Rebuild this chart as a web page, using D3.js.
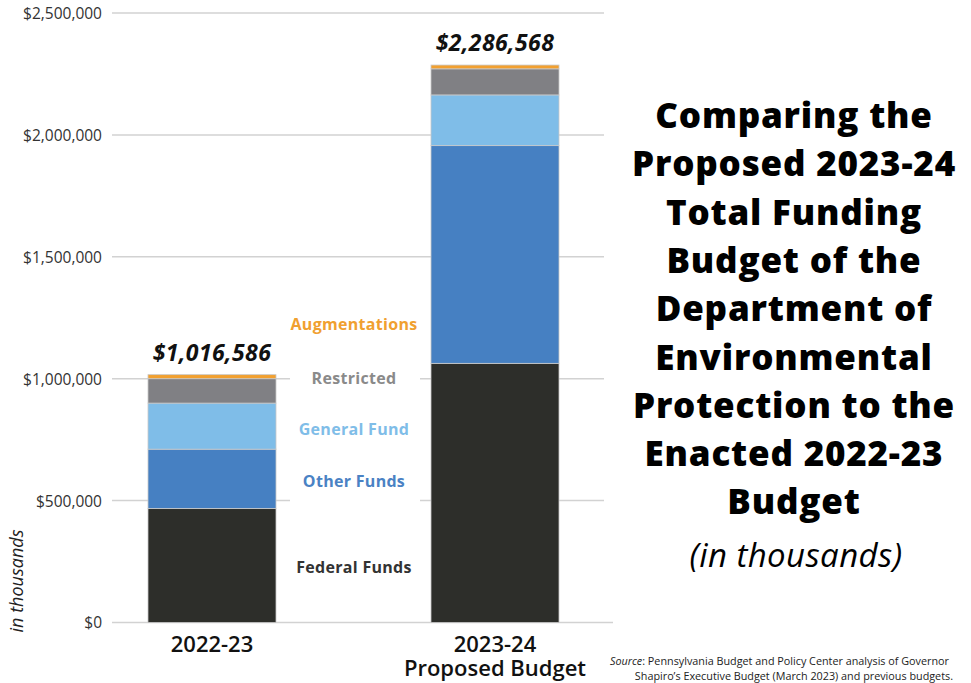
<!DOCTYPE html>
<html>
<head>
<meta charset="utf-8">
<script src="https://cdn.jsdelivr.net/npm/d3@7"></script>
<style>
  html, body { margin: 0; padding: 0; background: #fff; }
  svg { display: block; }
  text { font-family: "Open Sans", Lato, sans-serif; }
</style>
</head>
<body>
<svg id="chart" width="971" height="683"></svg>
<script>
// Budget years and funding sources (values in thousands of dollars)
const years = ["2022-23", "2023-24"];
const yearLabels = [["2022-23"], ["2023-24", "Proposed Budget"]];
const sources = ["Federal Funds", "Other Funds", "General Fund", "Restricted", "Augmentations"];
const federalFunds  = [468000, 1063000];
const otherFunds    = [243000, 893000];
const generalFund   = [189000, 208000];
const restricted    = [100000, 107000];
const augmentations = [16586, 15568];
const totals = [1016586, 2286568];
const yTicks = [0, 500000, 1000000, 1500000, 2000000, 2500000];

const colors = {
  "Federal Funds": "#2d2e2a",
  "Other Funds": "#4680c2",
  "General Fund": "#7fbde8",
  "Restricted": "#808084",
  "Augmentations": "#f2a02f"
};
const labelColors = {
  "Federal Funds": "#333333",
  "Other Funds": "#4a82c4",
  "General Fund": "#7fbde8",
  "Restricted": "#8a8a8a",
  "Augmentations": "#f0a030"
};

const rows = years.map((yr, i) => ({
  year: yr,
  "Federal Funds": federalFunds[i],
  "Other Funds": otherFunds[i],
  "General Fund": generalFund[i],
  "Restricted": restricted[i],
  "Augmentations": augmentations[i]
}));

const svg = d3.select("#chart");

const y = d3.scaleLinear().domain([0, 2500000]).range([622.5, 13]);
const x = d3.scaleBand().domain(years).range([148, 559]).paddingInner(0.5477).paddingOuter(0);

// Gridlines
const grid = svg.append("g");
grid.selectAll("line").data(yTicks).join("line")
  .attr("x1", 112)
  .attr("x2", d => d === 0 ? 613 : 604)
  .attr("y1", d => y(d)).attr("y2", d => y(d))
  .attr("stroke", "#d2d2d2").attr("stroke-width", 1.5);

// Clear the label column where the series names sit
svg.append("rect")
  .attr("x", 290).attr("y", y(1150000))
  .attr("width", 130).attr("height", y(420000) - y(1150000))
  .attr("fill", "#fff");

// Y axis labels
const yAxis = d3.axisLeft(y).tickValues(yTicks)
  .tickFormat(d => "$" + d3.format(",")(d)).tickSize(0).tickPadding(0);
const ya = svg.append("g").attr("transform", "translate(102,0)").call(yAxis);
ya.select(".domain").remove();
ya.selectAll("text")
  .attr("font-family", "'Open Sans', Lato, sans-serif")
  .attr("font-size", 15.5).attr("fill", "#333").attr("dy", "0.35em");

// Stacked bars
const stack = d3.stack().keys(sources)(rows);
svg.append("g").selectAll("g").data(stack).join("g")
  .attr("fill", d => colors[d.key])
  .selectAll("rect").data(d => d).join("rect")
  .attr("x", d => x(d.data.year))
  .attr("width", x.bandwidth())
  .attr("y", d => y(d[1]))
  .attr("height", d => y(d[0]) - y(d[1]))
  .attr("stroke", "#c9c9c9").attr("stroke-width", 0.8);

// Totals above the bars
svg.append("g").selectAll("text").data(years).join("text")
  .attr("x", (d) => x(d) + x.bandwidth() / 2)
  .attr("y", (d, i) => y(totals[i]) - 14)
  .attr("text-anchor", "middle")
  .attr("font-size", 23).attr("font-weight", 700).attr("font-style", "italic")
  .attr("letter-spacing", 0.4)
  .attr("fill", "#111")
  .text((d, i) => "$" + d3.format(",")(totals[i]));

// Series names between the bars
const labelY = {
  "Augmentations": 330,
  "Restricted": 384,
  "General Fund": 435,
  "Other Funds": 487,
  "Federal Funds": 573
};
svg.append("g").selectAll("text").data(sources).join("text")
  .attr("x", 354)
  .attr("y", d => labelY[d])
  .attr("text-anchor", "middle")
  .attr("font-size", 16).attr("font-weight", 700).attr("letter-spacing", 0.3)
  .attr("fill", d => labelColors[d])
  .text(d => d);

// Category labels
const xl = svg.append("g").selectAll("text").data(years).join("text")
  .attr("x", d => x(d) + x.bandwidth() / 2)
  .attr("y", 652)
  .attr("text-anchor", "middle")
  .attr("font-size", 22).attr("font-weight", 600).attr("fill", "#111");
xl.selectAll("tspan").data((d, i) => yearLabels[i]).join("tspan")
  .attr("x", function() { return d3.select(this.parentNode).attr("x"); })
  .attr("dy", (d, j) => j === 0 ? 0 : 24)
  .text(d => d);

// Axis title
svg.append("text")
  .attr("transform", "translate(23,581) rotate(-90)")
  .attr("text-anchor", "middle")
  .attr("font-size", 18).attr("font-style", "italic").attr("fill", "#222")
  .text("in thousands");

// Chart title
const titleLines = [
  "Comparing the", "Proposed 2023-24", "Total Funding", "Budget of the",
  "Department of", "Environmental", "Protection to the", "Enacted 2022-23", "Budget"
];
svg.append("g").selectAll("text").data(titleLines).join("text")
  .attr("x", 794)
  .attr("y", (d, i) => 128 + i * 48.3)
  .attr("text-anchor", "middle")
  .attr("font-size", 35).attr("font-weight", 800).attr("letter-spacing", 0.8)
  .attr("fill", "#000")
  .text(d => d);
svg.append("text")
  .attr("x", 796).attr("y", 567)
  .attr("text-anchor", "middle")
  .attr("font-size", 33).attr("font-style", "italic").attr("letter-spacing", 0.4)
  .attr("fill", "#000")
  .text("(in thousands)");

// Source note
const src = svg.append("g").attr("font-size", 10.8).attr("fill", "#222")
  .style("font-family", "Lato, 'Open Sans', sans-serif");
const s1 = src.append("text").attr("x", 949).attr("y", 665).attr("text-anchor", "end");
s1.append("tspan").attr("font-style", "italic").text("Source");
s1.append("tspan").text(": Pennsylvania Budget and Policy Center analysis of Governor");
src.append("text").attr("x", 953).attr("y", 680).attr("text-anchor", "end")
  .text("Shapiro\u2019s Executive Budget (March 2023) and previous budgets.");
</script>
</body>
</html>
